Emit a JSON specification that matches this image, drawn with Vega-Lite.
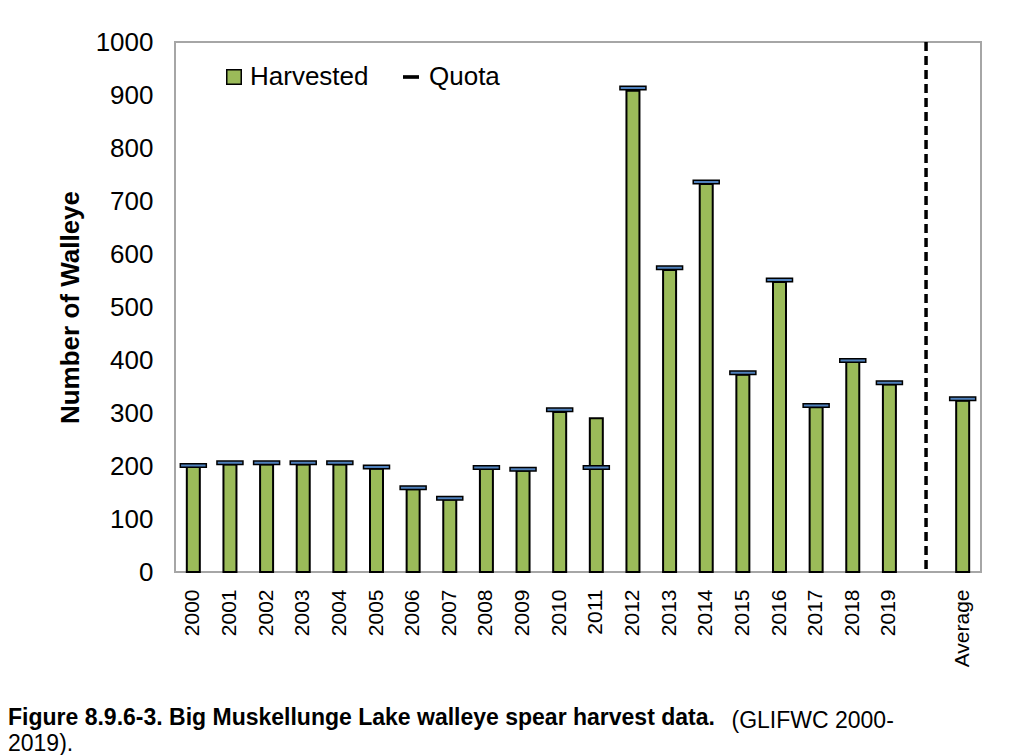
{
  "$schema": "https://vega.github.io/schema/vega-lite/v6.json",
  "width": 806,
  "height": 530,
  "autosize": {"type": "none"},
  "padding": {"left": 175, "top": 42, "right": 53, "bottom": 183},
  "background": "white",
  "config": {
    "view": {"stroke": "#A6A6A6", "strokeWidth": 2},
    "font": "Liberation Sans"
  },
  "title": {
    "text": "Figure 8.9.6-3.  Big Muskellunge Lake walleye spear harvest data.",
    "subtitle": "2019).",
    "orient": "bottom",
    "anchor": "start",
    "frame": "group",
    "dx": -167,
    "dy": -41,
    "offset": 16,
    "font": "Liberation Sans",
    "fontSize": 23,
    "fontWeight": "bold",
    "color": "black",
    "subtitleFont": "Liberation Sans",
    "subtitleFontSize": 23,
    "subtitleColor": "black",
    "subtitlePadding": 3
  },
  "data": {
    "values": [
      {"year": "2000", "harvested": 198, "quota": 201},
      {"year": "2001", "harvested": 203, "quota": 206},
      {"year": "2002", "harvested": 203, "quota": 206},
      {"year": "2003", "harvested": 203, "quota": 206},
      {"year": "2004", "harvested": 203, "quota": 206},
      {"year": "2005", "harvested": 195, "quota": 198},
      {"year": "2006", "harvested": 156, "quota": 159},
      {"year": "2007", "harvested": 137, "quota": 139},
      {"year": "2008", "harvested": 195, "quota": 197},
      {"year": "2009", "harvested": 191, "quota": 194},
      {"year": "2010", "harvested": 302, "quota": 306},
      {"year": "2011", "harvested": 290, "quota": 197},
      {"year": "2012", "harvested": 908, "quota": 913},
      {"year": "2013", "harvested": 570, "quota": 574},
      {"year": "2014", "harvested": 732, "quota": 736},
      {"year": "2015", "harvested": 372, "quota": 376},
      {"year": "2016", "harvested": 547, "quota": 551},
      {"year": "2017", "harvested": 311, "quota": 314},
      {"year": "2018", "harvested": 396, "quota": 399},
      {"year": "2019", "harvested": 354, "quota": 357},
      {"year": "Average", "harvested": 323, "quota": 327}
    ]
  },
  "layer": [
    {
      "mark": {"type": "bar", "size": 13, "stroke": "black", "strokeWidth": 2},
      "encoding": {
        "x": {
          "field": "year",
          "type": "nominal",
          "sort": null,
          "scale": {
            "domain": ["2000","2001","2002","2003","2004","2005","2006","2007","2008","2009","2010","2011","2012","2013","2014","2015","2016","2017","2018","2019"," ","Average"],
            "paddingInner": 0,
            "paddingOuter": 0
          },
          "axis": {
            "title": "(GLIFWC 2000-",
            "titleX": 556,
            "titleY": 155,
            "titleAlign": "left",
            "titleAnchor": "start",
            "titleAngle": 0,
            "titleBaseline": "alphabetic",
            "titleFont": "Liberation Sans",
            "titleFontSize": 23,
            "titleFontWeight": "normal",
            "titleColor": "black",
            "labelAngle": -90,
            "labelFont": "Liberation Sans",
            "labelFontSize": 21,
            "labelColor": "black",
            "labelPadding": 17,
            "ticks": false,
            "domain": false
          }
        },
        "y": {
          "field": "harvested",
          "type": "quantitative",
          "scale": {"domain": [0, 1000], "nice": false},
          "axis": {
            "title": "Number of Walleye",
            "titleFontSize": 26,
            "titleFontWeight": "bold",
            "titleColor": "black",
            "titlePadding": 12,
            "values": [0,100,200,300,400,500,600,700,800,900,1000],
            "format": "d",
            "labelFontSize": 26,
            "labelColor": "black",
            "labelPadding": 22,
            "ticks": false,
            "domain": false,
            "grid": false
          }
        },
        "fill": {
          "datum": "Harvested",
          "type": "nominal",
          "scale": {"domain": ["Harvested"], "range": ["#9BBB59"]},
          "legend": {
            "title": null,
            "orient": "none",
            "legendX": 46,
            "legendY": 22,
            "padding": 0,
            "labelFontSize": 26,
            "labelColor": "black",
            "labelOffset": 3,
            "symbolSize": 210,
            "symbolType": "square",
            "symbolStrokeColor": "black",
            "symbolStrokeWidth": 1.5,
            "symbolOpacity": 1
          }
        }
      }
    },
    {
      "mark": {"type": "tick", "size": 26, "thickness": 3.5, "fill": "#4F81BD", "filled": true, "strokeWidth": 1.5, "opacity": 1},
      "encoding": {
        "x": {"field": "year", "type": "nominal", "sort": null},
        "y": {"field": "quota", "type": "quantitative"},
        "stroke": {
          "datum": "Quota",
          "type": "nominal",
          "scale": {"domain": ["Quota"], "range": ["black"]},
          "legend": {
            "title": null,
            "orient": "none",
            "legendX": 223,
            "legendY": 22,
            "padding": 0,
            "labelFontSize": 26,
            "labelColor": "black",
            "labelOffset": 5,
            "symbolSize": 170,
            "symbolType": "M-1,-0.05H1V0.05H-1Z",
            "symbolFillColor": "black",
            "symbolStrokeWidth": 3,
            "symbolOpacity": 1
          }
        }
      }
    },
    {
      "data": {"values": [{"year": " "}]},
      "mark": {"type": "rule", "strokeDash": [9, 5], "strokeWidth": 3.5, "color": "black"},
      "encoding": {
        "x": {"field": "year", "type": "nominal", "sort": null}
      }
    }
  ]
}
